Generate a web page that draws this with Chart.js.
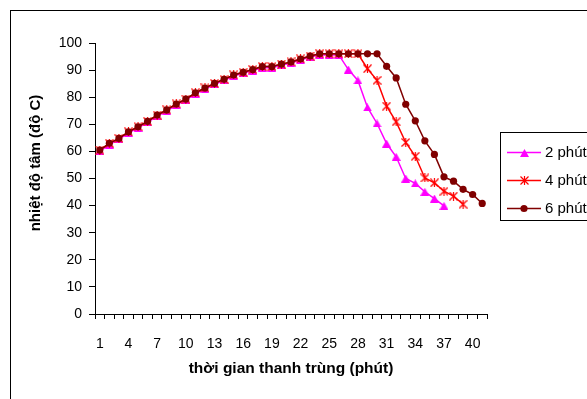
<!DOCTYPE html>
<html><head><meta charset="utf-8">
<script src="https://cdn.jsdelivr.net/npm/chart.js@4.4.0/dist/chart.umd.min.js"></script>
<style>html,body{margin:0;padding:0;overflow:hidden;background:#fff}#wrap{position:relative;width:650px;height:410px}</style>
</head><body><div id="wrap"><canvas id="c" width="650" height="410"></canvas></div>
<script>
const categories = ['1','2','3','4','5','6','7','8','9','10','11','12','13','14','15','16','17','18','19','20','21','22','23','24','25','26','27','28','29','30','31','32','33','34','35','36','37','38','39','40','41'];
const tickLabels = ['1','4','7','10','13','16','19','22','25','28','31','34','37','40'];
const seriesNames = ['2 phút','4 phút','6 phút'];
const xTitle = 'thời gian thanh trùng (phút)';
const yTitle = 'nhiệt độ tâm (độ C)';
const values2 = [60, 62.5, 64.4, 66.8, 68.7, 70.7, 73, 74.9, 77.1, 78.9, 81.2, 83, 84.7, 86.2, 87.8, 88.8, 89.8, 90.9, 90.9, 91.8, 92.6, 93.7, 94.8, 95.6, 95.6, 95.6,
  90.2, 86.2, 76.2, 70.3, 62.9, 58.0, 50.0, 48.2, 45.1, 42.6, 39.9];
const values4 = [60.5, 63, 64.8, 67.2, 69.1, 71.1, 73.4, 75.3, 77.5, 79.3, 81.6, 83.4, 85.1, 86.6, 88.2, 89.2, 90.2, 91.3, 91.3, 92.2, 93, 94.1, 95.2, 96, 96, 96, 96, 96,
  90.5, 86.2, 76.7, 70.9, 63.3, 58.2, 50.2, 48.4, 45.3, 43.5, 40.5];
const values6 = [60.5, 63, 64.8, 67.2, 69.1, 71.1, 73.4, 75.3, 77.5, 79.3, 81.6, 83.4, 85.1, 86.6, 88.2, 89.2, 90.2, 91.3, 91.3, 92.2, 93, 94.1, 95.2, 96, 96, 96, 96, 96, 96, 96,
  91.4, 87.1, 77.4, 71.3, 63.9, 58.9, 50.6, 49, 46, 44.1, 40.8];

const FONT = '"Liberation Sans", Arial, sans-serif';
Chart.defaults.font.family = FONT;
Chart.defaults.color = '#000';

function triMarker(color){
  const c=document.createElement('canvas'); c.width=9; c.height=8;
  const g=c.getContext('2d'); g.fillStyle=color; g.beginPath();
  g.moveTo(4.5,0); g.lineTo(9,8); g.lineTo(0,8); g.closePath(); g.fill(); return c;
}
function starMarker(color){
  const c=document.createElement('canvas'); c.width=9; c.height=9;
  const g=c.getContext('2d'); g.strokeStyle=color; g.lineWidth=1.2; g.beginPath();
  g.moveTo(0.5,0.5); g.lineTo(8.5,8.5); g.moveTo(8.5,0.5); g.lineTo(0.5,8.5);
  g.moveTo(4.5,0); g.lineTo(4.5,9); g.stroke(); return c;
}
const triM = triMarker('#FF00FF');
const starM = starMarker('#FF0000');

const decor = {
  id:'decor',
  afterDraw(chart){
    const ctx = chart.ctx; ctx.save();
    ctx.strokeStyle='#000'; ctx.lineWidth=1;
    ctx.strokeRect(10.5,10.5,700,500);
    ctx.strokeRect(500.5,132.5,140,88);
    const ys=[152.5,180.5,208.5];
    const sets = chart.data.datasets;
    sets.forEach((ds,i)=>{
      const y=ys[i];
      ctx.strokeStyle=ds.borderColor; ctx.lineWidth=1.5;
      ctx.beginPath(); ctx.moveTo(507,y); ctx.lineTo(541,y); ctx.stroke();
      const ps=ds.pointStyle;
      if (ps instanceof HTMLCanvasElement) {
        ctx.drawImage(ps, Math.round(524-ps.width/2), Math.round(y-ps.height/2));
      } else {
        ctx.fillStyle=ds.pointBackgroundColor; ctx.beginPath(); ctx.arc(524,y,3.6,0,Math.PI*2); ctx.fill();
      }
      ctx.fillStyle='#000'; ctx.font='15px '+FONT; ctx.textAlign='left'; ctx.textBaseline='middle';
      ctx.fillText(ds.label,545,y+0.5);
    });
    ctx.translate(36,163); ctx.rotate(-Math.PI/2);
    ctx.font='bold 15px '+FONT; ctx.textAlign='center'; ctx.textBaseline='middle'; ctx.fillStyle='#000';
    ctx.fillText(yTitle,0,0);
    ctx.restore();
  }
};

new Chart(document.getElementById('c'), {
  type:'line',
  data:{
    labels: categories,
    datasets:[
      {label:seriesNames[0], data:values2, borderColor:'#FF00FF', backgroundColor:'#FF00FF', borderWidth:1.5,
       pointStyle:triM, pointRadius:4, order:2, tension:0, fill:false},
      {label:seriesNames[1], data:values4, borderColor:'#FF0000', backgroundColor:'#FF0000', borderWidth:1.5,
       pointStyle:starM, pointRadius:4, order:1, tension:0, fill:false},
      {label:seriesNames[2], data:values6, borderColor:'#800000', backgroundColor:'#800000', pointBackgroundColor:'#800000',
       pointBorderColor:'#800000', pointBorderWidth:0, borderWidth:1.5, pointStyle:'circle', pointRadius:3.6, order:0, tension:0, fill:false}
    ]
  },
  options:{
    responsive:false, animation:false, devicePixelRatio:1,
    layout:{padding:{top:43,right:163,left:0,bottom:0}},
    plugins:{legend:{display:false}, tooltip:{enabled:false}},
    scales:{
      x:{type:'category', offset:true,
        grid:{offset:true, drawOnChartArea:false, drawTicks:true, tickLength:5, color:'#000', lineWidth:1},
        border:{display:true, color:'#000', width:1},
        ticks:{autoSkip:false, maxRotation:0, minRotation:0, padding:17, color:'#000', font:{size:14},
          callback:(v,i)=> tickLabels.includes(categories[i]) ? categories[i] : ''},
        title:{display:true, text:xTitle, color:'#000', font:{size:15.5, weight:'bold'}, padding:{top:0,bottom:32}},
        afterFit(s){ s.height=96; }
      },
      y:{min:0, max:100,
        grid:{drawOnChartArea:false, drawTicks:true, tickLength:6, color:'#000', lineWidth:1},
        border:{display:true, color:'#000', width:1},
        ticks:{stepSize:10, padding:7, color:'#000', font:{size:14}},
        afterFit(s){ s.width=95; }
      }
    }
  },
  plugins:[decor]
});
</script></body></html>
